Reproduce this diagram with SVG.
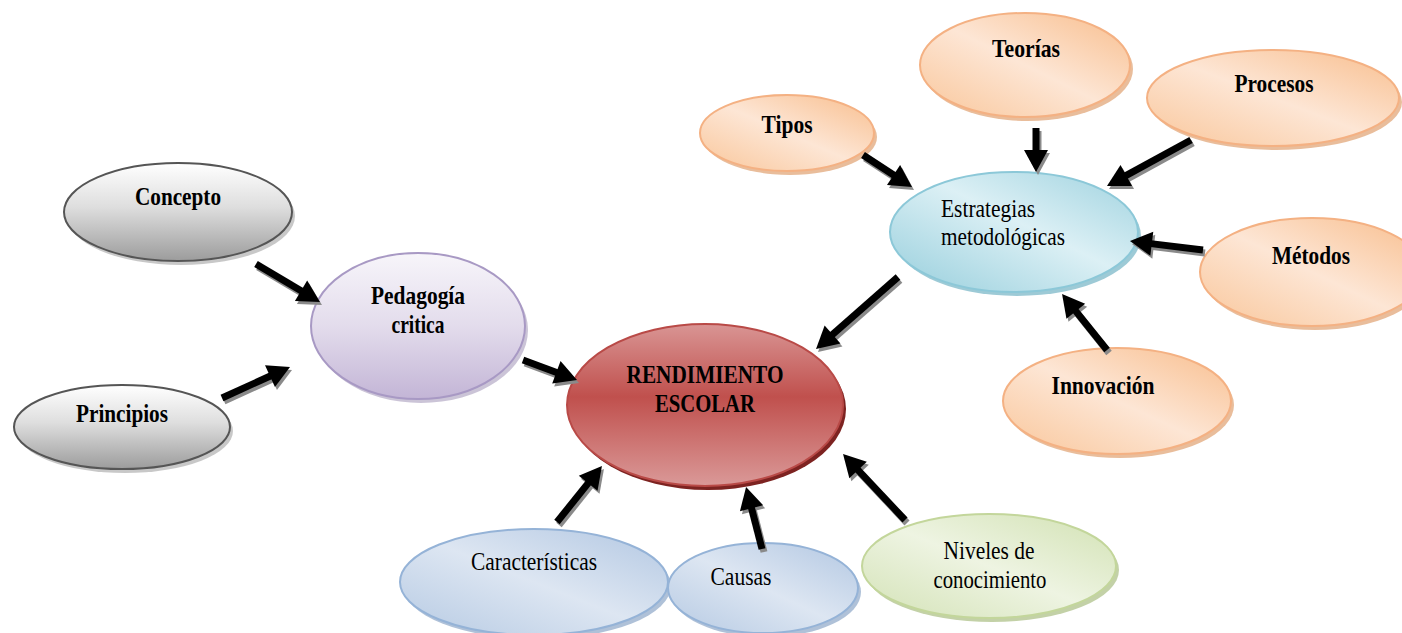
<svg xmlns="http://www.w3.org/2000/svg" width="1402" height="633" viewBox="0 0 1402 633">
<style>
text{font-family:"Liberation Serif","Times New Roman",serif;font-size:25px;fill:#000;text-anchor:middle}
.b{font-weight:bold}
.l{text-anchor:start}
.sh{fill:#9a9a9a;opacity:0.55}
.ar{stroke:#000;stroke-width:7;fill:none;marker-end:url(#ah)}
.as{stroke:#8a8a8a;stroke-width:7;fill:none;marker-end:url(#ahs)}
</style>
<defs>
<linearGradient id="gGrey" x1="0" y1="0" x2="0" y2="1"><stop offset="0" stop-color="#ffffff"/><stop offset="0.45" stop-color="#dedede"/><stop offset="1" stop-color="#9c9c9c"/></linearGradient>
<linearGradient id="gPurple" x1="0" y1="0" x2="0" y2="1"><stop offset="0" stop-color="#f7f5fa"/><stop offset="0.5" stop-color="#e3dcec"/><stop offset="1" stop-color="#c3b5d6"/></linearGradient>
<linearGradient id="gRed" x1="0" y1="0" x2="0" y2="1"><stop offset="0" stop-color="#d99594"/><stop offset="0.45" stop-color="#c0504d"/><stop offset="1" stop-color="#da9998"/></linearGradient>
<linearGradient id="gCyan" x1="1" y1="0" x2="0" y2="1"><stop offset="0" stop-color="#9ed2df"/><stop offset="0.45" stop-color="#dcf0f5"/><stop offset="1" stop-color="#96cedc"/></linearGradient>
<linearGradient id="gOrange" x1="1" y1="0" x2="0" y2="1"><stop offset="0" stop-color="#f8bd8c"/><stop offset="0.5" stop-color="#fde6d5"/><stop offset="1" stop-color="#f9c69a"/></linearGradient>
<linearGradient id="gBlue" x1="1" y1="0" x2="0" y2="1"><stop offset="0" stop-color="#b2c7e2"/><stop offset="0.5" stop-color="#dde6f2"/><stop offset="1" stop-color="#b6cae3"/></linearGradient>
<linearGradient id="gGreen" x1="1" y1="0" x2="0" y2="1"><stop offset="0" stop-color="#d1e1b2"/><stop offset="0.5" stop-color="#eef4e2"/><stop offset="1" stop-color="#d3e2b6"/></linearGradient>
<marker id="ah" markerUnits="userSpaceOnUse" markerWidth="24" markerHeight="26" refX="1" refY="12" orient="auto" overflow="visible"><path d="M0,0 L22,12 L0,24 z" fill="#000"/></marker>
<marker id="ahs" markerUnits="userSpaceOnUse" markerWidth="24" markerHeight="26" refX="1" refY="12" orient="auto" overflow="visible"><path d="M0,0 L22,12 L0,24 z" fill="#8a8a8a"/></marker>
</defs>

<g id="concepto">
<ellipse class="sh" cx="181" cy="216" rx="114" ry="49"/>
<ellipse cx="178" cy="212" rx="114" ry="49" fill="url(#gGrey)" stroke="#555" stroke-width="2"/>
<text class="b" x="178" y="205" textLength="86" lengthAdjust="spacingAndGlyphs">Concepto</text>
</g>
<g id="principios">
<ellipse class="sh" cx="125" cy="431" rx="108" ry="42"/>
<ellipse cx="122" cy="427" rx="108" ry="42" fill="url(#gGrey)" stroke="#555" stroke-width="2"/>
<text class="b" x="122" y="422" textLength="92" lengthAdjust="spacingAndGlyphs">Principios</text>
</g>
<g id="pedagogia">
<ellipse cx="421" cy="330" rx="107" ry="73" fill="#a89cbc" opacity="0.6"/>
<ellipse cx="418" cy="326" rx="107" ry="73" fill="url(#gPurple)" stroke="#a899c4" stroke-width="2"/>
<text class="b" x="418" y="304" textLength="94" lengthAdjust="spacingAndGlyphs">Pedagogía</text>
<text class="b" x="418" y="333" textLength="53" lengthAdjust="spacingAndGlyphs">critica</text>
</g>
<g id="rendimiento">
<ellipse cx="708" cy="409" rx="138" ry="81" fill="#7d2321"/>
<ellipse cx="705" cy="405" rx="138" ry="81" fill="url(#gRed)" stroke="#b94a47" stroke-width="2"/>
<text class="b" x="705" y="383" textLength="157" lengthAdjust="spacingAndGlyphs">RENDIMIENTO</text>
<text class="b" x="705" y="412" textLength="100" lengthAdjust="spacingAndGlyphs">ESCOLAR</text>
</g>
<g id="estrategias">
<ellipse cx="1017" cy="236" rx="124" ry="60" fill="#74b3c4" opacity="0.7"/>
<ellipse cx="1014" cy="232" rx="124" ry="60" fill="url(#gCyan)" stroke="#8cc8d8" stroke-width="2"/>
<text class="l" x="941" y="217" textLength="94" lengthAdjust="spacingAndGlyphs">Estrategias</text>
<text class="l" x="941" y="245" textLength="124" lengthAdjust="spacingAndGlyphs">metodológicas</text>
</g>
<g id="tipos">
<ellipse cx="790" cy="137" rx="87" ry="38" fill="#e0a170" opacity="0.7"/>
<ellipse cx="787" cy="133" rx="87" ry="38" fill="url(#gOrange)" stroke="#f4b183" stroke-width="2"/>
<text class="b" x="787" y="133" textLength="51" lengthAdjust="spacingAndGlyphs">Tipos</text>
</g>
<g id="teorias">
<ellipse cx="1028" cy="69" rx="105" ry="52" fill="#e0a170" opacity="0.7"/>
<ellipse cx="1025" cy="65" rx="105" ry="52" fill="url(#gOrange)" stroke="#f4b183" stroke-width="2"/>
<text class="b" x="1026" y="57" textLength="68" lengthAdjust="spacingAndGlyphs">Teorías</text>
</g>
<g id="procesos">
<ellipse cx="1276" cy="102" rx="126" ry="48" fill="#e0a170" opacity="0.7"/>
<ellipse cx="1273" cy="98" rx="126" ry="48" fill="url(#gOrange)" stroke="#f4b183" stroke-width="2"/>
<text class="b" x="1274" y="92" textLength="79" lengthAdjust="spacingAndGlyphs">Procesos</text>
</g>
<g id="metodos">
<ellipse cx="1315" cy="276" rx="112" ry="54" fill="#e0a170" opacity="0.7"/>
<ellipse cx="1312" cy="272" rx="112" ry="54" fill="url(#gOrange)" stroke="#f4b183" stroke-width="2"/>
<text class="b" x="1311" y="264" textLength="78" lengthAdjust="spacingAndGlyphs">Métodos</text>
</g>
<g id="innovacion">
<ellipse cx="1120" cy="405" rx="114" ry="53" fill="#e0a170" opacity="0.7"/>
<ellipse cx="1117" cy="401" rx="114" ry="53" fill="url(#gOrange)" stroke="#f4b183" stroke-width="2"/>
<text class="b" x="1103" y="394" textLength="103" lengthAdjust="spacingAndGlyphs">Innovación</text>
</g>
<g id="caracteristicas">
<ellipse cx="537" cy="586" rx="134" ry="53" fill="#8da7c7" opacity="0.7"/>
<ellipse cx="534" cy="582" rx="134" ry="53" fill="url(#gBlue)" stroke="#95b3d7" stroke-width="2"/>
<text x="534" y="570" textLength="126" lengthAdjust="spacingAndGlyphs">Características</text>
</g>
<g id="causas">
<ellipse cx="766" cy="592" rx="95" ry="45" fill="#8da7c7" opacity="0.7"/>
<ellipse cx="763" cy="588" rx="95" ry="45" fill="url(#gBlue)" stroke="#95b3d7" stroke-width="2"/>
<text x="741" y="585" textLength="61" lengthAdjust="spacingAndGlyphs">Causas</text>
</g>
<g id="niveles">
<ellipse cx="992" cy="570" rx="127" ry="52" fill="#a9bd82" opacity="0.7"/>
<ellipse cx="989" cy="566" rx="127" ry="52" fill="url(#gGreen)" stroke="#c3d69b" stroke-width="2"/>
<text x="989" y="559" textLength="91" lengthAdjust="spacingAndGlyphs">Niveles de</text>
<text x="990" y="588" textLength="113" lengthAdjust="spacingAndGlyphs">conocimiento</text>
</g>

<g id="connectors">
<g transform="translate(2,3)">
<line class="as" x1="256" y1="264" x2="301.9" y2="291.3"/>
<line class="as" x1="222" y1="398" x2="270.9" y2="375.7"/>
<line class="as" x1="523" y1="360" x2="557.3" y2="372.7"/>
<line class="as" x1="898" y1="277" x2="831.8" y2="335.1"/>
<line class="as" x1="863" y1="155" x2="894.4" y2="175.5"/>
<line class="as" x1="1036" y1="128" x2="1036" y2="151"/>
<line class="as" x1="1191" y1="140" x2="1125.4" y2="175.9"/>
<line class="as" x1="1203" y1="250" x2="1150.8" y2="243.6"/>
<line class="as" x1="1107" y1="350" x2="1075.2" y2="310.4"/>
<line class="as" x1="557" y1="522" x2="588.8" y2="482.4"/>
<line class="as" x1="762" y1="549" x2="751.3" y2="507.3"/>
<line class="as" x1="905" y1="520" x2="857.4" y2="469.3"/>
</g>
<line class="ar" x1="256" y1="264" x2="301.9" y2="291.3"/>
<line class="ar" x1="222" y1="398" x2="270.9" y2="375.7"/>
<line class="ar" x1="523" y1="360" x2="557.3" y2="372.7"/>
<line class="ar" x1="898" y1="277" x2="831.8" y2="335.1"/>
<line class="ar" x1="863" y1="155" x2="894.4" y2="175.5"/>
<line class="ar" x1="1036" y1="128" x2="1036" y2="151"/>
<line class="ar" x1="1191" y1="140" x2="1125.4" y2="175.9"/>
<line class="ar" x1="1203" y1="250" x2="1150.8" y2="243.6"/>
<line class="ar" x1="1107" y1="350" x2="1075.2" y2="310.4"/>
<line class="ar" x1="557" y1="522" x2="588.8" y2="482.4"/>
<line class="ar" x1="762" y1="549" x2="751.3" y2="507.3"/>
<line class="ar" x1="905" y1="520" x2="857.4" y2="469.3"/>
</g>
</svg>
